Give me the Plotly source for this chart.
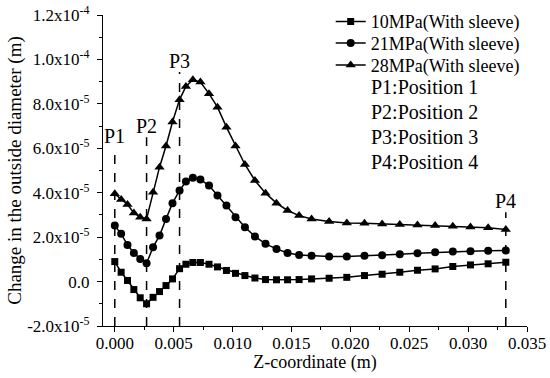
import plotly.graph_objects as go

# Z-coordinate (m)
z = [0, 0.00054, 0.00108, 0.00162, 0.00216, 0.0027, 0.00325, 0.0038, 0.00435, 0.0049, 0.0055,
     0.00604, 0.00663, 0.00727, 0.0080, 0.00872, 0.00948, 0.01025, 0.01105, 0.0119, 0.0128,
     0.01373, 0.01467, 0.01565, 0.01671,
     0.0182, 0.0197, 0.0212, 0.0227, 0.0242, 0.0257, 0.0272, 0.0287, 0.0302, 0.0317, 0.0332]

# change in outside diameter, in units of 1e-6 m
p10 = [9.0, 4.2, 0.5, -3.6, -7.3, -10.0, -7.1, -4.5, -1.8, 1.2, 5.8,
       7.8, 8.6, 8.6, 7.8, 6.6, 5.0, 3.7, 2.7, 1.6, 0.9, 0.8, 0.8, 0.9, 1.2,
       1.5, 1.9, 2.7, 3.3, 4.2, 5.1, 5.7, 6.8, 7.5, 8.0, 8.7]
p21 = [25.2, 21.5, 16.5, 12.9, 10.2, 8.2, 15.5, 20.7, 28.2, 35.3, 41.0,
       45.0, 46.7, 46.0, 43.2, 38.7, 34.2, 29.0, 24.5, 20.3, 17.0, 14.7, 12.9, 12.0, 11.6,
       11.3, 11.3, 11.6, 11.8, 12.3, 12.8, 13.2, 13.5, 13.7, 13.9, 14.0]
p28 = [39.5, 36.9, 34.7, 30.9, 29.0, 28.2, 40.2, 51.5, 61.0, 71.8, 81.9,
       87.8, 90.9, 89.8, 84.6, 78.5, 69.5, 61.0, 52.7, 45.5, 39.8, 35.3, 32.0, 29.7, 28.2,
       27.0, 26.4, 26.2, 25.9, 25.7, 25.5, 25.2, 24.9, 24.6, 24.2, 23.4]

series_names = ["10MPa(With sleeve)", "21MPa(With sleeve)", "28MPa(With sleeve)"]
series_symbols = ["square", "circle", "triangle-up"]

# positions (dashed markers)
pos_labels = ["P1", "P2", "P3", "P4"]
pos_z = [0.0, 0.0027, 0.0055, 0.0332]
pos_top = [60.8e-6, 65.0e-6, 94.3e-6, 31.2e-6]
pos_legend = ["P1:Position 1", "P2:Position 2", "P3:Position 3", "P4:Position 4"]

y_min = -2e-5
x_ticks = [0, 0.005, 0.010, 0.015, 0.020, 0.025, 0.030, 0.035]
y_ticks = [-2e-5, 0, 2e-5, 4e-5, 6e-5, 8e-5, 1.0e-4, 1.2e-4]
y_ticktext = ["-2.0x10<sup>-5</sup>", "0.0", "2.0x10<sup>-5</sup>", "4.0x10<sup>-5</sup>",
              "6.0x10<sup>-5</sup>", "8.0x10<sup>-5</sup>", "1.0x10<sup>-4</sup>", "1.2x10<sup>-4</sup>"]

FONT = "Liberation Serif, Times New Roman, serif"
fig = go.Figure()

legend_ids = ["legend", "legend2", "legend3"]
for name, vals, sym, ms, lg in zip(series_names, [p10, p21, p28], series_symbols, [7, 8, 9], legend_ids):
    fig.add_trace(go.Scatter(
        x=z, y=[v * 1e-6 for v in vals], name=name, mode="lines+markers",
        line=dict(color="black", width=1.5),
        marker=dict(symbol=sym, size=ms, color="black"),
        legend=lg,
    ))

for lab, pz, pt in zip(pos_labels, pos_z, pos_top):
    fig.add_trace(go.Scatter(
        x=[pz, pz], y=[y_min, pt], mode="lines", showlegend=False, hoverinfo="skip",
        line=dict(color="black", width=1.5, dash="dash"),
    ))
    fig.add_annotation(x=pz, y=pt, text=lab, showarrow=False, xref="x", yref="y",
                       yanchor="bottom", xanchor="center", yshift=-2,
                       font=dict(family=FONT, size=20, color="black"))

for i, t in enumerate(pos_legend):
    fig.add_annotation(x=0.627, y=(326 - (86.7 + 25 * i)) / 311, xref="paper", yref="paper",
                       text=t, showarrow=False, xanchor="left", yanchor="middle",
                       font=dict(family=FONT, size=20, color="black"))

legend_rows_px = [21.7, 43.3, 65.3]
legend_style = dict(x=0.537, xanchor="left", yanchor="middle",
                    bgcolor="rgba(0,0,0,0)", font=dict(family=FONT, size=18), itemwidth=30)

fig.update_layout(
    width=550, height=378,
    margin=dict(l=103, r=23, t=15, b=52, autoexpand=False),
    paper_bgcolor="white", plot_bgcolor="white",
    font=dict(family=FONT, size=17, color="black"),
    showlegend=True,
    legend=dict(y=(326 - legend_rows_px[0]) / 311, **legend_style),
    legend2=dict(y=(326 - legend_rows_px[1]) / 311, **legend_style),
    legend3=dict(y=(326 - legend_rows_px[2]) / 311, **legend_style),
    xaxis=dict(range=[-0.001, 0.035], tickvals=x_ticks, tickformat=".3f",
               showline=True, linecolor="black", linewidth=1.2, mirror=False,
               ticks="outside", ticklen=5, tickcolor="black", tickwidth=1.2,
               ticklabelstandoff=-4,
               showgrid=False, zeroline=False, automargin=False,
               minor=dict(ticks="outside", ticklen=3, dtick=0.0025, tick0=0, tickcolor="black", showgrid=False),
               title=dict(text="Z-coordinate (m)", font=dict(family=FONT, size=18), standoff=0),
               tickfont=dict(family=FONT, size=17)),
    yaxis=dict(range=[-2e-5, 1.2e-4], tickvals=y_ticks, ticktext=y_ticktext,
               showline=True, linecolor="black", linewidth=1.2, mirror=False,
               ticks="outside", ticklen=5, tickcolor="black", tickwidth=1.2,
               ticklabelstandoff=4,
               showgrid=False, zeroline=False, automargin=False,
               minor=dict(ticks="outside", ticklen=3, dtick=1e-5, tick0=0, tickcolor="black", showgrid=False),
               title=dict(text="Change in the outside diameter (m)", font=dict(family=FONT, size=19), standoff=0),
               tickfont=dict(family=FONT, size=17)),
)

fig.write_html("out.html", config={"displayModeBar": False},
               post_script="document.body.style.margin='0px';document.body.style.padding='0px';")
